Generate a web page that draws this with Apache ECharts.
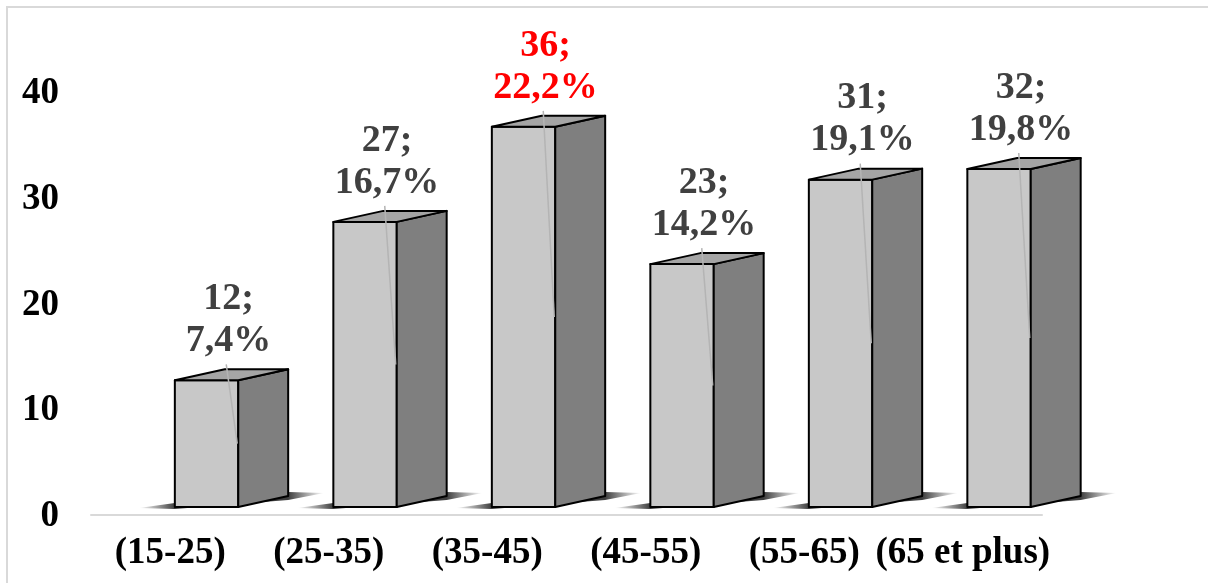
<!DOCTYPE html>
<html><head><meta charset="utf-8">
<script src="https://cdn.jsdelivr.net/npm/echarts@6/dist/echarts.min.js"></script>
<style>html,body{margin:0;padding:0;background:#fff}#c{width:1208px;height:583px}</style>
</head><body><div id="c"></div>
<script>
const categories = ['(15-25)', '(25-35)', '(35-45)', '(45-55)', '(55-65)', '(65 et plus)'];
const counts = [12, 27, 36, 23, 31, 32];
const percents = [7.4, 16.7, 22.2, 14.2, 19.1, 19.8];
const yTicks = [0, 10, 20, 30, 40];
const highlightIndex = 2;

const FONT = '"Liberation Serif", "Times New Roman", serif';
const chart = echarts.init(document.getElementById('c'), null, { renderer: 'canvas' });

function geom(api) {
  const i = api.value(0), v = api.value(1);
  const band = api.size([1, 0])[0];
  const base = api.coord([i, 0]);
  const top = api.coord([i, v]);
  const w = band * 0.4;
  const cx = base[0] + band * 0.229;
  return { i, v, x0: cx - w / 2, x1: cx + w / 2, y0: base[1], yt: top[1], w, dx: band * 0.315, dy: -11 };
}

function renderShadow(params, api) {
  const g = geom(api);
  const L = 36;
  const pts = [
    [g.x0 - L, g.y0 + 1], [g.x0, g.y0 - 4], [g.x1 + g.dx, g.y0 + g.dy - 4],
    [g.x1 + g.dx + L, g.y0 + g.dy - 3], [g.x1 + g.dx, g.y0 + g.dy + 4], [g.x0, g.y0 + 2]
  ];
  const total = (g.x1 + g.dx + L) - (g.x0 - L);
  const a = L / total, b = 1 - L / total;
  return {
    type: 'polygon', shape: { points: pts },
    style: {
      fill: new echarts.graphic.LinearGradient(0, 0, 1, 0, [
        { offset: 0, color: 'rgba(60,60,60,0)' },
        { offset: a, color: 'rgba(40,40,40,0.9)' },
        { offset: b, color: 'rgba(40,40,40,0.9)' },
        { offset: 1, color: 'rgba(60,60,60,0)' }
      ])
    }
  };
}

function renderBox(params, api) {
  const g = geom(api);
  const { x0, x1, y0, yt, dx, dy, w } = g;
  const stroke = { stroke: '#000', lineWidth: 2, lineJoin: 'round' };
  const color = g.i === highlightIndex ? '#ff0000' : '#404040';
  const pct = String(percents[g.i]).replace('.', ',');
  return {
    type: 'group',
    children: [
      { type: 'polygon', shape: { points: [[x0, yt], [x1, yt], [x1, y0], [x0, y0]] },
        style: Object.assign({ fill: '#c8c8c8' }, stroke) },
      { type: 'polygon', shape: { points: [[x1, yt], [x1 + dx, yt + dy], [x1 + dx, y0 + dy], [x1, y0]] },
        style: Object.assign({ fill: '#7f7f7f' }, stroke) },
      { type: 'polygon', shape: { points: [[x0, yt], [x0 + dx, yt + dy], [x1 + dx, yt + dy], [x1, yt]] },
        style: Object.assign({ fill: '#a5a5a5' }, stroke) },
      { type: 'line', shape: { x1: x1 - 12, y1: yt - 16, x2: x1 - 1, y2: (yt + y0) / 2 },
        style: { stroke: '#b4b4b4', lineWidth: 1.5 } },
      { type: 'text',
        style: {
          x: x0 + w / 2 + dx / 2 - 3, y: yt - 18,
          text: g.v + ';\n' + pct + '%',
          align: 'center', verticalAlign: 'bottom',
          font: 'bold 38px ' + FONT, lineHeight: 42, fill: color
        } }
    ]
  };
}

const data = counts.map((c, i) => [i, c]);

chart.setOption({
  animation: false,
  backgroundColor: '#fff',
  graphic: [{
    type: 'rect', shape: { x: 7, y: 7, width: 1230, height: 620 },
    style: { fill: 'none', stroke: '#d9d9d9', lineWidth: 2 }, silent: true
  }],
  grid: [
    { left: 91, right: 166, top: 84.6, bottom: 76 },
    { left: 91, right: 166, top: 93.5, bottom: 66.5 }
  ],
  xAxis: [
    { type: 'category', gridIndex: 0, data: categories, offset: 8,
      axisLine: { show: true, onZero: false, lineStyle: { color: '#d9d9d9', width: 2 } },
      axisTick: { show: false },
      axisLabel: { interval: 0, margin: 20, color: '#000', fontFamily: FONT, fontWeight: 'bold', fontSize: 37 } },
    { type: 'category', gridIndex: 1, data: categories, show: false }
  ],
  yAxis: [
    { type: 'value', gridIndex: 0, min: 0, max: 40, interval: 10, show: false },
    { type: 'value', gridIndex: 1, min: yTicks[0], max: yTicks[yTicks.length - 1], interval: 10,
      axisLine: { show: false }, axisTick: { show: false }, splitLine: { show: false },
      axisLabel: { margin: 32, color: '#000', fontFamily: FONT, fontWeight: 'bold', fontSize: 37 } }
  ],
  series: [
    { type: 'custom', xAxisIndex: 0, yAxisIndex: 0, renderItem: renderShadow, data: data, z: 1, silent: true },
    { type: 'custom', xAxisIndex: 0, yAxisIndex: 0, renderItem: renderBox, data: data, z: 2, silent: true }
  ]
});
</script></body></html>
